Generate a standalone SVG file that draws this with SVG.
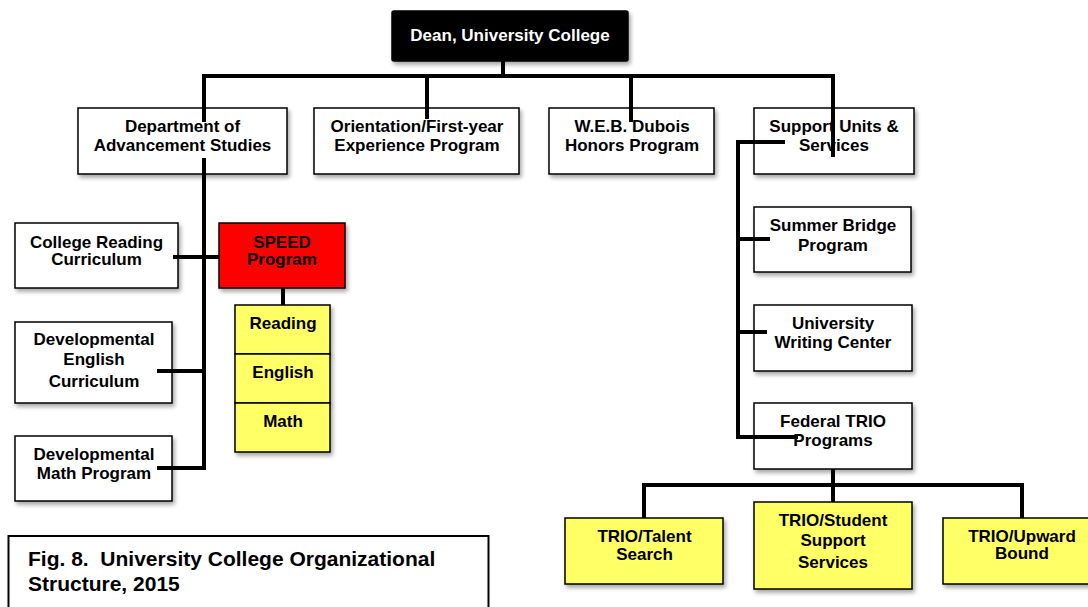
<svg xmlns="http://www.w3.org/2000/svg" width="1088" height="607" viewBox="0 0 1088 607">
<defs>
<filter id="sh" x="-10%" y="-10%" width="130%" height="140%">
<feDropShadow dx="2" dy="3" stdDeviation="2" flood-color="#000" flood-opacity="0.35"/>
</filter>
<style>
.box{fill:#fff;stroke:#000;stroke-width:1.5;filter:url(#sh)}
.red{fill:#ff0000}
.yel{fill:#ffff66}
.blk{fill:#000;stroke:#000}
text{font-family:"Liberation Sans",Arial,sans-serif;font-weight:bold;font-size:17px;fill:#000;text-anchor:middle}
.wt{fill:#fff}
.cap{font-size:21px;text-anchor:start}
.ln{fill:none;stroke:#000;stroke-width:4;stroke-linejoin:miter;stroke-linecap:butt}
</style>
</defs>
<rect width="1088" height="607" fill="#fff"/>
<g id="dean"><rect class="box blk" x="392" y="11" width="236" height="50" rx="2"/><text class="wt" x="510" y="41">Dean, University College</text></g>
<g id="dept"><rect class="box" x="78" y="108" width="209" height="66"/><text x="182.5" y="132">Department of</text><text x="182.5" y="151">Advancement Studies</text></g>
<g id="orientation"><rect class="box" x="314" y="108" width="205" height="66"/><text x="417" y="132">Orientation/First-year</text><text x="417" y="151">Experience Program</text></g>
<g id="dubois"><rect class="box" x="549" y="108" width="165" height="66"/><text x="632" y="132">W.E.B. Dubois</text><text x="632" y="151">Honors Program</text></g>
<g id="support"><rect class="box" x="754" y="108" width="160" height="66"/><text x="834" y="132">Support Units &amp;</text><text x="834" y="151">Services</text></g>
<g id="reading-curr"><rect class="box" x="15" y="223" width="163" height="65"/><text x="96.5" y="248">College Reading</text><text x="96.5" y="265">Curriculum</text></g>
<g id="speed"><rect class="box red" x="219" y="223" width="126" height="65"/><text x="282" y="248">SPEED</text><text x="282" y="265">Program</text></g>
<g id="speed-reading"><rect class="box yel" x="235" y="305" width="95" height="49"/><text x="283" y="329">Reading</text></g>
<g id="speed-english"><rect class="box yel" x="235" y="354" width="95" height="49"/><text x="283" y="378">English</text></g>
<g id="speed-math"><rect class="box yel" x="235" y="403" width="95" height="49"/><text x="283" y="427">Math</text></g>
<g id="dev-english"><rect class="box" x="15" y="322" width="157" height="81"/><text x="94" y="345">Developmental</text><text x="94" y="365">English</text><text x="94" y="387">Curriculum</text></g>
<g id="dev-math"><rect class="box" x="15" y="436" width="157" height="65"/><text x="94" y="460">Developmental</text><text x="94" y="479">Math Program</text></g>
<g id="summer"><rect class="box" x="754" y="207" width="157" height="65"/><text x="833" y="231">Summer Bridge</text><text x="833" y="251">Program</text></g>
<g id="writing"><rect class="box" x="754" y="305" width="158" height="66"/><text x="833" y="329">University</text><text x="833" y="348">Writing Center</text></g>
<g id="trio"><rect class="box" x="754" y="403" width="158" height="66"/><text x="833" y="427">Federal TRIO</text><text x="833" y="446">Programs</text></g>
<g id="talent"><rect class="box yel" x="565" y="518" width="158" height="66"/><text x="644.5" y="542">TRIO/Talent</text><text x="644.5" y="560">Search</text></g>
<g id="sss"><rect class="box yel" x="754" y="502" width="158" height="87"/><text x="833" y="526">TRIO/Student</text><text x="833" y="546">Support</text><text x="833" y="568">Services</text></g>
<g id="upward"><rect class="box yel" x="943" y="518" width="160" height="66"/><text x="1022" y="542">TRIO/Upward</text><text x="1022" y="559">Bound</text></g>
<g id="caption"><rect x="8.5" y="536" width="480" height="90" fill="#fff" stroke="#000" stroke-width="2"/><text class="cap" x="28" y="566" xml:space="preserve">Fig. 8.  University College Organizational</text><text class="cap" x="28" y="591">Structure, 2015</text></g>
<g id="connectors" class="ln">
<path d="M503 61V76"/>
<path d="M204 122V76H833V157"/>
<path d="M427 76V119"/>
<path d="M631 76V122"/>
<path d="M204 158V468H157"/>
<path d="M173 257H219"/>
<path d="M157 371H204"/>
<path d="M283 288V305"/>
<path d="M785 142H738V437H798"/>
<path d="M738 239H770"/>
<path d="M736 332H767"/>
<path d="M833 469V502"/>
<path d="M644 518V485H1022V518"/>
</g>
</svg>
